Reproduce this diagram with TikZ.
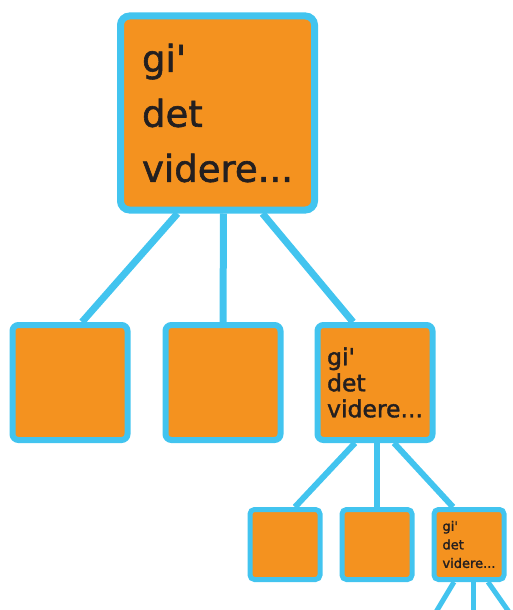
\documentclass[tikz,border=0pt]{standalone}
\usepackage{fontspec}
\newfontfamily\boxfont[FakeBold=1.6]{DejaVu Sans}
\usetikzlibrary{backgrounds}
\definecolor{boxorange}{HTML}{F4921F}
\definecolor{boxblue}{HTML}{42C4EF}
\definecolor{boxtext}{HTML}{231F20}
\tikzset{
  box/.style={draw=boxblue, fill=boxorange, inner sep=0pt, align=left, text=boxtext},
  bigbox/.style={box, line width=7pt, rounded corners=9pt, minimum size=194pt, font=\boxfont\fontsize{37}{55}\selectfont},
  midbox/.style={box, line width=6pt, rounded corners=6pt, minimum size=115pt, font=\boxfont\fontsize{23.5}{26}\selectfont},
  smallbox/.style={box, line width=5pt, rounded corners=4.5pt, minimum size=70pt, font=\boxfont\fontsize{13}{18.5}\selectfont},
  biglink/.style={draw=boxblue, line width=7pt},
  midlink/.style={draw=boxblue, line width=6pt},
  smalllink/.style={draw=boxblue, line width=5pt}
}
\begin{document}
\begin{tikzpicture}[x=1pt,y=-1pt]
\useasboundingbox (0,0) rectangle (512,610);
\node[bigbox] (top) at (217.5,113) {gi'\\det\\videre...};
\node[midbox] (left) at (70,382.5) {};
\node[midbox] (mid) at (223,382.5) {};
\node[midbox] (right) at (375,382.5) {gi'\\det\\videre...};
\node[smallbox] (rleft) at (285,544.5) {};
\node[smallbox] (rmid) at (377,544.5) {};
\node[smallbox] (rright) at (469,544.5) {gi'\\det\\videre...};
\coordinate (nextleft) at (430,622);
\coordinate (nextmid) at (473,622);
\coordinate (nextright) at (516,622);
\begin{scope}[on background layer]
\draw[biglink] ([xshift=-40pt]top.south) -- ([xshift=12pt]left.north);
\draw[biglink] ([xshift=6pt]top.south) -- (mid.north);
\draw[biglink] ([xshift=45pt]top.south) -- ([xshift=-22pt]right.north);
\draw[midlink] ([xshift=-20pt]right.south) -- ([xshift=10pt]rleft.north);
\draw[midlink] ([xshift=2pt]right.south) -- (rmid.north);
\draw[midlink] ([xshift=19pt]right.south) -- ([xshift=-16pt]rright.north);
\draw[smalllink] ([xshift=-15pt]rright.south) -- (nextleft);
\draw[smalllink] ([xshift=4pt]rright.south) -- (nextmid);
\draw[smalllink] ([xshift=19pt]rright.south) -- (nextright);
\end{scope}
\end{tikzpicture}
\end{document}
